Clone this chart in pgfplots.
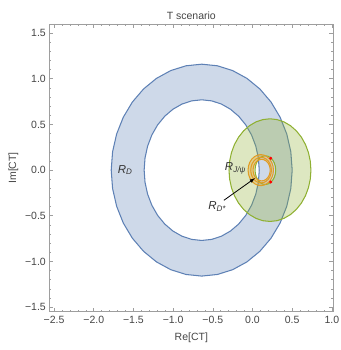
\documentclass[border=0pt]{standalone}
\usepackage{fontspec}
\setmainfont{Liberation Sans}
\usepackage{pgfplots}
\pgfplotsset{compat=1.18}
\definecolor{mblue}{rgb}{0.368417,0.506779,0.709798}
\definecolor{mgreen}{rgb}{0.560181,0.691569,0.194885}
\definecolor{morange}{rgb}{0.880722,0.611041,0.142051}
\definecolor{fr}{gray}{0.62}
\definecolor{lab}{gray}{0.27}
\begin{document}
\begin{tikzpicture}
\begin{axis}[
  scale only axis, width=284pt, height=287.7pt,
  xmin=-2.56, xmax=1.018, ymin=-1.55, ymax=1.6,
  clip=false,
  unbounded coords=jump,
  axis line style={fr, line width=0.6pt},
  every tick/.style={fr, line width=0.6pt},
  tick align=inside, major tick length=4pt, minor tick length=2.2pt,
  xtick pos=both, ytick pos=both, xticklabel pos=bottom, yticklabel pos=left,
  xtick={-2.5,-2,-1.5,-1,-0.5,0,0.5,1},
  xticklabels={−2.5,−2.0,−1.5,−1.0,−0.5,0.0,0.5,1.0},
  ytick={-1.5,-1,-0.5,0,0.5,1,1.5},
  yticklabels={−1.5,−1.0,−0.5,0.0,0.5,1.0,1.5},
  minor x tick num=4, minor y tick num=4,
  tick label style={font=\fontsize{10.5}{12}\selectfont, text=lab},
  xticklabel style={yshift=-1pt},
  title={T scenario},
  title style={at={(0.5,1)}, anchor=center, yshift=2.5pt, font=\fontsize{10.5}{12}\selectfont, text=lab},
  xlabel={Re[CT]}, ylabel={Im[CT]},
  every axis x label/.style={at={(axis description cs:0.5,0)}, anchor=center, yshift=-26pt, font=\fontsize{10.5}{12}\selectfont, text=lab},
  every axis y label/.style={at={(axis description cs:0,0.5)}, anchor=center, xshift=-36pt, rotate=90, font=\fontsize{10.5}{12}\selectfont, text=lab},
]
\coordinate (sw) at (rel axis cs:0,0);
% R_D annulus
\addplot[draw=mblue, line width=1.05pt, fill=mblue, fill opacity=0.3, even odd rule] coordinates {
(0.5,0) (0.4827,0.2014) (0.4313,0.3967) (0.3473,0.58) (0.2333,0.7456) (0.0928,0.8886) (-0.07,1.0046) (-0.2501,1.09) (-0.442,1.1424) (-0.64,1.16) (-0.838,1.1424) (-1.0299,1.09) (-1.21,1.0046) (-1.3728,0.8886) (-1.5133,0.7456) (-1.6273,0.58) (-1.7113,0.3967) (-1.7627,0.2014) (-1.78,0) (-1.7627,-0.2014) (-1.7113,-0.3967) (-1.6273,-0.58) (-1.5133,-0.7456) (-1.3728,-0.8886) (-1.21,-1.0046) (-1.0299,-1.09) (-0.838,-1.1424) (-0.64,-1.16) (-0.442,-1.1424) (-0.2501,-1.09) (-0.07,-1.0046) (0.0928,-0.8886) (0.2333,-0.7456) (0.3473,-0.58) (0.4313,-0.3967) (0.4827,-0.2014) (0.5,0) (0.4827,0.2014)
(nan,nan)
(0.085,0) (0.074,0.1337) (0.0413,0.2634) (-0.0121,0.385) (-0.0846,0.495) (-0.174,0.5899) (-0.2775,0.6668) (-0.392,0.7236) (-0.5141,0.7583) (-0.64,0.77) (-0.7659,0.7583) (-0.888,0.7236) (-1.0025,0.6668) (-1.106,0.5899) (-1.1954,0.495) (-1.2679,0.385) (-1.3213,0.2634) (-1.354,0.1337) (-1.365,0) (-1.354,-0.1337) (-1.3213,-0.2634) (-1.2679,-0.385) (-1.1954,-0.495) (-1.106,-0.5899) (-1.0025,-0.6668) (-0.888,-0.7236) (-0.7659,-0.7583) (-0.64,-0.77) (-0.5141,-0.7583) (-0.392,-0.7236) (-0.2775,-0.6668) (-0.174,-0.5899) (-0.0846,-0.495) (-0.0121,-0.385) (0.0413,-0.2634) (0.074,-0.1337) (0.085,0) (0.074,0.1337)
};
% R_{J/psi} annulus
\addplot[draw=mgreen, line width=1.05pt, fill=mgreen, fill opacity=0.3, even odd rule] coordinates {
(0.736,0) (0.7282,0.0976) (0.7049,0.1922) (0.6669,0.281) (0.6153,0.3613) (0.5517,0.4305) (0.478,0.4867) (0.3965,0.5281) (0.3096,0.5535) (0.22,0.562) (0.1304,0.5535) (0.0435,0.5281) (-0.038,0.4867) (-0.1117,0.4305) (-0.1753,0.3613) (-0.2269,0.281) (-0.2649,0.1922) (-0.2882,0.0976) (-0.296,0) (-0.2882,-0.0976) (-0.2649,-0.1922) (-0.2269,-0.281) (-0.1753,-0.3613) (-0.1117,-0.4305) (-0.038,-0.4867) (0.0435,-0.5281) (0.1304,-0.5535) (0.22,-0.562) (0.3096,-0.5535) (0.3965,-0.5281) (0.478,-0.4867) (0.5517,-0.4305) (0.6153,-0.3613) (0.6669,-0.281) (0.7049,-0.1922) (0.7282,-0.0976) (0.736,0) (0.7282,0.0976)
(nan,nan)
(0.292,0) (0.2876,0.0406) (0.2746,0.0785) (0.2539,0.111) (0.227,0.136) (0.1957,0.1517) (0.162,0.157) (0.1284,0.1517) (0.097,0.136) (0.0701,0.111) (0.0494,0.0785) (0.0364,0.0406) (0.032,0) (0.0364,-0.0406) (0.0494,-0.0785) (0.0701,-0.111) (0.097,-0.136) (0.1284,-0.1517) (0.162,-0.157) (0.1957,-0.1517) (0.227,-0.136) (0.2539,-0.111) (0.2746,-0.0785) (0.2876,-0.0406) (0.292,0) (0.2876,0.0406)
};
% R_{D*} annulus
\addplot[draw=morange, line width=1.05pt, fill=morange, fill opacity=0.3, even odd rule] coordinates {
(0.264,0) (0.2586,0.044) (0.2426,0.085) (0.2171,0.1202) (0.184,0.1472) (0.1454,0.1642) (0.104,0.17) (0.0626,0.1642) (0.024,0.1472) (-0.0091,0.1202) (-0.0346,0.085) (-0.0506,0.044) (-0.056,0) (-0.0506,-0.044) (-0.0346,-0.085) (-0.0091,-0.1202) (0.024,-0.1472) (0.0626,-0.1642) (0.104,-0.17) (0.1454,-0.1642) (0.184,-0.1472) (0.2171,-0.1202) (0.2426,-0.085) (0.2586,-0.044) (0.264,0) (0.2586,0.044)
(nan,nan)
(0.223,0) (0.2193,0.0305) (0.2085,0.059) (0.1914,0.0834) (0.169,0.1022) (0.143,0.114) (0.115,0.118) (0.0871,0.114) (0.061,0.1022) (0.0386,0.0834) (0.0215,0.059) (0.0107,0.0305) (0.007,0) (0.0107,-0.0305) (0.0215,-0.059) (0.0386,-0.0834) (0.061,-0.1022) (0.0871,-0.114) (0.115,-0.118) (0.143,-0.114) (0.169,-0.1022) (0.1914,-0.0834) (0.2085,-0.059) (0.2193,-0.0305) (0.223,0) (0.2193,0.0305)
};
\addplot[draw=morange, line width=1.05pt] coordinates {
(0.238,0) (0.2336,0.0362) (0.2206,0.07) (0.1999,0.099) (0.173,0.1212) (0.1417,0.1352) (0.108,0.14) (0.0744,0.1352) (0.043,0.1212) (0.0161,0.099) (-0.0046,0.07) (-0.0176,0.0362) (-0.022,0) (-0.0176,-0.0362) (-0.0046,-0.07) (0.0161,-0.099) (0.043,-0.1212) (0.0744,-0.1352) (0.108,-0.14) (0.1417,-0.1352) (0.173,-0.1212) (0.1999,-0.099) (0.2206,-0.07) (0.2336,-0.0362) (0.238,0) (0.2336,0.0362)
};
% intersection points
\addplot[only marks, mark=*, mark size=1.3pt, red] coordinates {(0.229,0.13) (0.229,-0.13)};
% labels
\node[font=\fontsize{11.5}{13}\selectfont\itshape, text=black!80] at (axis cs:-1.605,0) {R\textsubscript{D}};
\node[font=\fontsize{11.5}{13}\selectfont\itshape, text=black!80] at (axis cs:-0.215,0.02) {R\textsubscript{J/ψ}};
\node[font=\fontsize{11.5}{13}\selectfont\itshape, text=black!80] at (axis cs:-0.445,-0.40) {R\textsubscript{D*}};
\draw[-latex, line width=0.8pt] (axis cs:-0.36,-0.33) -- (axis cs:0.031,-0.088);
\end{axis}
\pgfresetboundingbox
\path ([shift={(-49.3pt,-38.3pt)}]sw) rectangle ++(340pt,350pt);
\end{tikzpicture}
\end{document}
